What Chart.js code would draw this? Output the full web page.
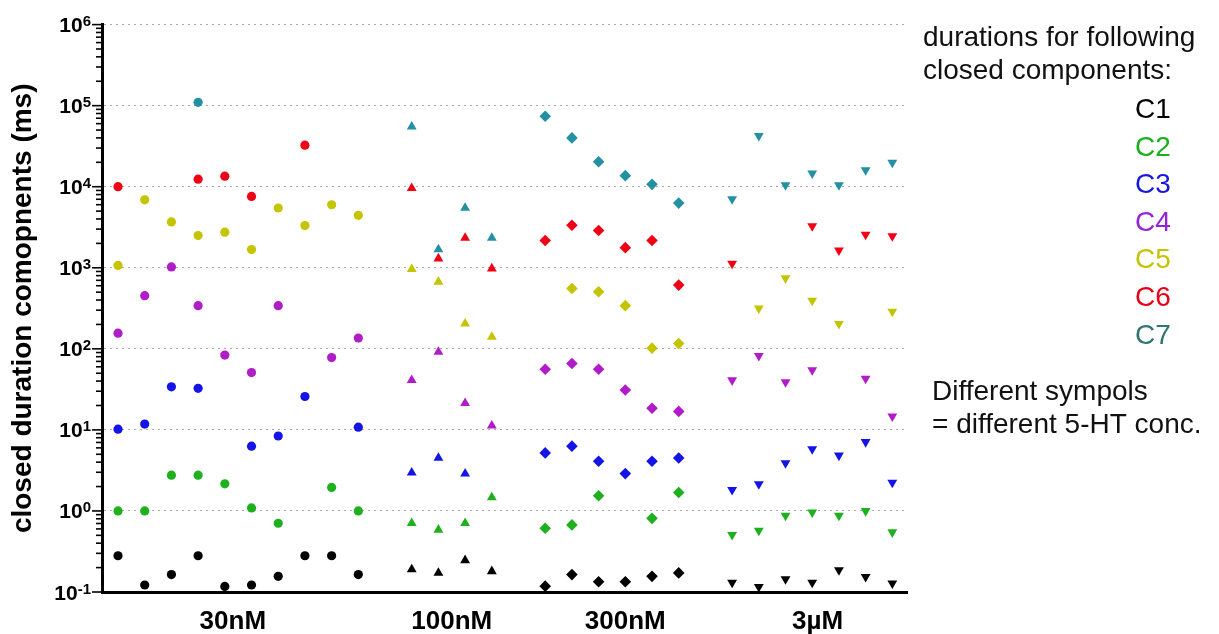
<!DOCTYPE html>
<html><head><meta charset="utf-8">
<script src="https://cdn.jsdelivr.net/npm/chart.js@4.4.0/dist/chart.umd.min.js"></script>
<style>html,body{margin:0;padding:0;background:#fff}#wrap{width:1219px;height:634px;position:relative}</style>
</head><body><div id="wrap"><canvas id="c" width="1219" height="634"></canvas></div>
<script>
// ---- data ----
const concentrations = ['30nM', '100nM', '300nM', '3µM'];
const patchesPerConc = [10, 4, 6, 7];
const componentNames = ['C1', 'C2', 'C3', 'C4', 'C5', 'C6', 'C7'];
const yTickValues = [0.1, 1, 10, 100, 1000, 10000, 100000, 1000000];

// closed durations (ms), patches in order: 30nM x10, 100nM x4, 300nM x6, 3µM x7
const C1 = [0.28, 0.122, 0.164, 0.28, 0.117, 0.122, 0.156, 0.28, 0.28, 0.164,
            0.19, 0.172, 0.246, 0.18,
            0.118, 0.164, 0.134, 0.134, 0.156, 0.172,
            0.131, 0.116, 0.144, 0.131, 0.186, 0.154, 0.128];
const C2 = [1.0, 1.0, 2.76, 2.76, 2.16, 1.09, 0.705, null, 1.95, 1.0,
            0.705, 0.585, 0.705, 1.47,
            0.612, 0.673, 1.54, null, 0.81, 1.69,
            0.508, 0.574, 0.875, 0.96, 0.875, 1.0, 0.547];
const C3 = [10.2, 11.8, 34, 32.6, null, 6.3, 8.4, 25.8, null, 10.8,
            2.97, 4.5, 2.89, null,
            5.2, 6.3, 4.1, 2.89, 4.1, 4.5,
            1.82, 2.14, 3.9, 5.8, 4.84, 7.1, 2.24];
const C4 = [156, 453, 1025, 341, 83.7, 51, 341, null, 78, 136,
            41, 91.6, 21.3, 11.3,
            56, 66, 56, 31, 18.5, 16.9,
            41, 81.9, 39, 54.7, null, 43, 14.7];
const C5 = [1070, 6900, 3680, 2500, 2750, 1680, 5460, 3320, 5990, 4440,
            960, 671, 204, 140,
            null, 556, 507, 341, 102, 116,
            null, 316, 744, 393, 204, null, 288];
const C6 = [10000, null, null, 12400, 13500, 7580, null, 32500, null, null,
            9600, 1300, 2340, 978,
            2170, 3350, 2880, 1770, 2170, 611,
            1125, null, null, 3260, 1640, 2570, 2460];
const C7 = [null, null, null, 110000, null, null, null, null, null, null,
            55000, 1680, 5460, 2340,
            74000, 40000, 20300, 13700, 10700, 6280,
            7030, 42400, 10500, 14600, 10500, 16000, 19800];

// ---- styling ----
const componentColors = ['#000000', '#1fb01f', '#1414e6', '#b01cc8', '#c4c400', '#f00014', '#2391a3'];
const legendColors = ['#000000', '#18b018', '#1818e0', '#9422d8', '#c4c400', '#e60018', '#2f7672'];
const concStyles = ['circle', 'triangle', 'rectRot', 'triangle'];
const concRotation = [0, 0, 0, 180];
const concRadius = [4.6, 5.7, 5.8, 5.7];
const labelPositions = [4.3, 12.5, 19.0, 26.2];

// slot index for each patch (one empty slot between concentrations)
const slotOf = [], concOf = [];
{ let s = 0; patchesPerConc.forEach((n, g) => { for (let k = 0; k < n; k++) { slotOf.push(s++); concOf.push(g); } s++; }); }

const series = [C1, C2, C3, C4, C5, C6, C7];
const datasets = series.map((arr, ci) => {
  const pts = [];
  arr.forEach((v, i) => { if (v !== null) pts.push({ x: slotOf[i], y: v, g: concOf[i] }); });
  return {
    label: componentNames[ci],
    data: pts,
    showLine: false,
    backgroundColor: componentColors[ci],
    borderColor: componentColors[ci],
    borderWidth: 0,
    pointStyle: c => concStyles[c.raw ? c.raw.g : 0],
    rotation: c => concRotation[c.raw ? c.raw.g : 0],
    radius: c => concRadius[c.raw ? c.raw.g : 0],
    hoverRadius: c => concRadius[c.raw ? c.raw.g : 0],
    clip: false
  };
});

const isPow10 = v => { const l = Math.log10(v); return Math.abs(l - Math.round(l)) < 1e-9; };

Chart.defaults.font.family = "'Liberation Sans', Arial, sans-serif";
Chart.defaults.color = '#000';

const decor = {
  id: 'decor',
  afterDraw(chart) {
    const ctx = chart.ctx, ys = chart.scales.y, x0 = chart.chartArea.left - 1;
    ctx.save();
    ctx.strokeStyle = '#000';
    ctx.lineWidth = 1.6;
    for (let d = -1; d <= 6; d++) {
      for (let m = 1; m <= 9; m++) {
        const v = m * Math.pow(10, d);
        if (v > 1e6 * 1.0001) break;
        const py = ys.getPixelForValue(v);
        const len = m === 1 ? 9 : 5;
        ctx.beginPath(); ctx.moveTo(x0 - len, py); ctx.lineTo(x0, py); ctx.stroke();
      }
    }
    // y tick labels: 10 with superscript exponent
    ctx.fillStyle = '#000';
    ctx.textBaseline = 'alphabetic';
    ctx.textAlign = 'left';
    yTickValues.forEach(v => {
      const e = String(Math.round(Math.log10(v)));
      const py = ys.getPixelForValue(v);
      ctx.font = "bold 21px 'Liberation Sans', Arial, sans-serif";
      const wb = ctx.measureText('10').width;
      ctx.font = "bold 15px 'Liberation Sans', Arial, sans-serif";
      const we = ctx.measureText(e).width;
      const right = 91;
      const xb = right - we - wb;
      ctx.font = "bold 21px 'Liberation Sans', Arial, sans-serif";
      ctx.fillText('10', xb, py + 7.5);
      ctx.font = "bold 15px 'Liberation Sans', Arial, sans-serif";
      ctx.fillText(e, xb + wb, py + 1.5);
    });
    // legend text
    ctx.font = "28px 'Liberation Sans', Arial, sans-serif";
    ctx.fillStyle = '#111';
    ctx.fillText('durations for following', 923, 46);
    ctx.fillText('closed components:', 923, 79);
    componentNames.forEach((n, i) => {
      ctx.fillStyle = legendColors[i];
      ctx.fillText(n, 1135, 118 + 37.6 * i);
    });
    ctx.fillStyle = '#111';
    ctx.fillText('Different sympols', 932, 400);
    ctx.fillText('= different 5-HT conc.', 932, 433);
    ctx.restore();
  }
};

new Chart(document.getElementById('c'), {
  type: 'scatter',
  data: { datasets },
  plugins: [decor],
  options: {
    responsive: false,
    animation: false,
    events: [],
    layout: { padding: { left: 0, top: 20, right: 312, bottom: 0 } },
    plugins: { legend: { display: false }, tooltip: { enabled: false } },
    scales: {
      x: {
        type: 'linear',
        min: -0.6,
        max: 29.55,
        afterFit: s => { s.height = 42; },
        afterBuildTicks: s => { s.ticks = labelPositions.map(v => ({ value: v })); },
        grid: { display: false, drawTicks: false },
        border: { display: true, color: '#000', width: 3 },
        ticks: {
          autoSkip: false,
          maxRotation: 0,
          padding: 14,
          font: { size: 26, weight: 'bold' },
          callback: (v, i) => concentrations[i]
        }
      },
      y: {
        type: 'logarithmic',
        min: 0.1,
        max: 1000000,
        afterFit: s => { s.width = 102; },
        afterBuildTicks: s => { s.ticks = yTickValues.map(v => ({ value: v })); },
        grid: {
          drawTicks: false,
          color: c => (c.tick && isPow10(c.tick.value)) ? '#a9a9a9' : 'rgba(0,0,0,0)',
          lineWidth: 1
        },
        border: { display: true, color: '#000', width: 3, dash: [2, 4] },
        ticks: {
          autoSkip: false,
          padding: 12,
          color: 'rgba(0,0,0,0)',
          font: { size: 21, weight: 'bold' },
          callback: v => '10'
        },
        title: {
          display: true,
          text: 'closed duration comopnents (ms)',
          font: { size: 28, weight: 'bold' },
          padding: { top: 6, bottom: 0 }
        }
      }
    }
  }
});
</script>
</body></html>
